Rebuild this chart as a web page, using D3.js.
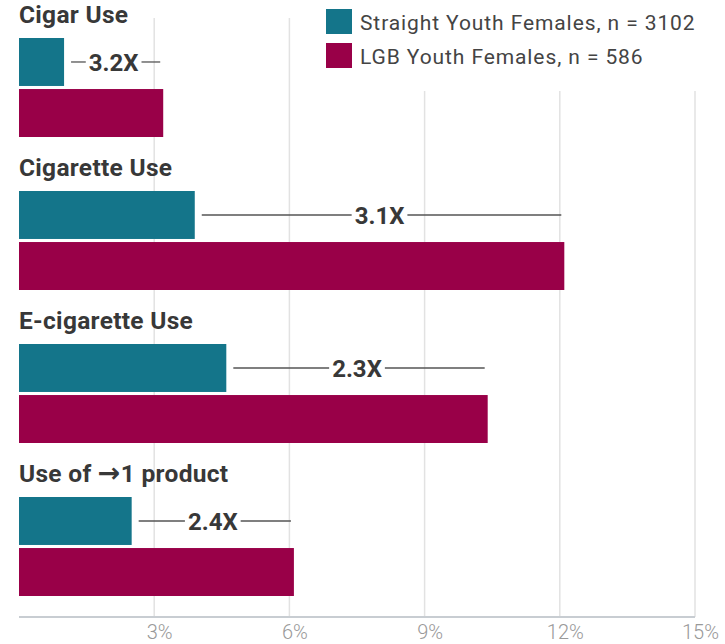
<!DOCTYPE html>
<html><head><meta charset="utf-8">
<script src="https://cdn.jsdelivr.net/npm/d3@7"></script>
<style>body{margin:0;background:#fff}svg{display:block}</style>
</head><body>
<svg id="c" width="725" height="644"></svg>
<script>
const categories = ["Cigar Use", "Cigarette Use", "E-cigarette Use", "Use of \u21921 product"];
const seriesNames = ["Straight Youth Females, n = 3102", "LGB Youth Females, n = 586"];
const straight = [1.0, 3.9, 4.6, 2.5];
const lgb = [3.2, 12.1, 10.4, 6.1];
const ratios = ["3.2X", "3.1X", "2.3X", "2.4X"];
const ticks = [3, 6, 9, 12, 15];
const colors = ["#14758a", "#990048"];

const svg = d3.select("#c");
const x = d3.scaleLinear().domain([0, 15]).range([19, 695]);
const yG = d3.scaleBand().domain(categories).range([0, 612]);
const yS = d3.scaleBand().domain([0, 1]).range([38, 137]).paddingInner(0.06);
const axisY = 617;
const FONT = "Roboto, 'DejaVu Sans', sans-serif";

// gridlines
svg.append("g").selectAll("line").data(ticks).join("line")
  .attr("x1", d => x(d)).attr("x2", d => x(d))
  .attr("y1", 18).attr("y2", axisY)
  .attr("stroke", "#e2e2e2").attr("stroke-width", 1.5);

// axis
const ax = svg.append("g").attr("transform", `translate(0,${axisY})`)
  .call(d3.axisBottom(x).tickValues(ticks).tickSize(0).tickFormat(d => d + "%"));
ax.select(".domain").attr("stroke", "#c8cdd2").attr("stroke-width", 2)
  .attr("d", `M${x(0)},0H${x(15)}`);
ax.selectAll("text").attr("font-family", FONT).attr("font-weight", 300).attr("font-size", 20)
  .attr("fill", "#999").attr("dy", null).attr("y", 22).attr("x", 5);

// groups
const g = svg.append("g").selectAll("g").data(categories).join("g")
  .attr("transform", d => `translate(0,${yG(d)})`);

g.append("text")
  .attr("x", 19).attr("y", yS(0) - 15)
  .attr("font-family", FONT).attr("font-weight", "bold").attr("font-size", 24.5)
  .attr("letter-spacing", 0.3)
  .attr("fill", "#383838")
  .each(function(d) {
    const t = d3.select(this);
    const parts = d.split("\u2192");
    t.append("tspan").text(parts[0]);
    if (parts.length > 1) {
      t.append("tspan").text("\u2192").attr("font-family", "'DejaVu Sans', sans-serif").attr("font-size", 27);
      t.append("tspan").text(parts[1]);
    }
  });

g.each(function(d, i) {
  const sel = d3.select(this);
  const vals = [straight[i], lgb[i]];
  sel.selectAll("rect").data(vals).join("rect")
    .attr("x", x(0)).attr("y", (v, j) => yS(j))
    .attr("width", v => x(v) - x(0)).attr("height", yS.bandwidth())
    .attr("fill", (v, j) => colors[j]);
  // ratio annotation
  const yc = yS(0) + yS.bandwidth() / 2;
  const x1 = x(vals[0]) + 7, x2 = x(vals[1]) - 3;
  const mid = (x(vals[0]) + x(vals[1])) / 2;
  const t = sel.append("text").text(ratios[i])
    .attr("x", mid).attr("y", yc + 9).attr("text-anchor", "middle")
    .attr("font-family", FONT).attr("font-weight", "bold").attr("font-size", 24)
    .attr("fill", "#383838");
  const w = t.node().getComputedTextLength();
  sel.append("line").attr("x1", x1).attr("x2", mid - w / 2 - 3)
    .attr("y1", yc).attr("y2", yc).attr("stroke", "#555").attr("stroke-width", 1.3);
  sel.append("line").attr("x1", mid + w / 2 + 3).attr("x2", x2)
    .attr("y1", yc).attr("y2", yc).attr("stroke", "#555").attr("stroke-width", 1.3);
});

// legend
const lg = svg.append("g");
lg.append("rect").attr("x", 305).attr("y", 0).attr("width", 420).attr("height", 91).attr("fill", "#fff");
const li = lg.selectAll("g").data(seriesNames).join("g")
  .attr("transform", (d, i) => `translate(326,${9 + i * 34})`);
li.append("rect").attr("width", 26).attr("height", 25).attr("fill", (d, i) => colors[i]);
li.append("text").text(d => d).attr("x", 34).attr("y", 21)
  .attr("font-family", FONT).attr("font-size", 21).attr("letter-spacing", 0.9).attr("fill", "#444");
</script>
</body></html>
